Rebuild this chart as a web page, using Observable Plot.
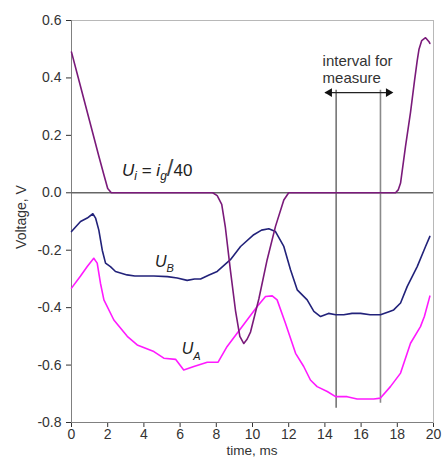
<!DOCTYPE html>
<html><head><meta charset="utf-8">
<script src="https://cdn.jsdelivr.net/npm/d3@7"></script>
<script src="https://cdn.jsdelivr.net/npm/@observablehq/plot@0.6"></script>
<style>body{margin:0;background:#fff}#chart svg{display:block}</style>
</head><body><div id="chart"></div>
<script>
const xTicks = [0, 2, 4, 6, 8, 10, 12, 14, 16, 18, 20];
const yTicks = [-0.8, -0.6, -0.4, -0.2, 0, 0.2, 0.4, 0.6];
const xLabel = "time, ms";
const yLabel = "Voltage, V";

const uiT = [0, 0.5, 1.0, 1.5, 1.8, 2.0, 2.2, 3, 4, 5, 6, 7, 7.8, 8.05, 8.3, 8.5, 8.78, 9.06, 9.3, 9.52, 9.7, 9.89, 10.35, 10.81, 11.27, 11.73, 12.0, 13, 14, 15, 16, 17, 17.9, 18.05, 18.18, 18.45, 18.73, 18.95, 19.1, 19.2, 19.35, 19.56, 19.74, 19.8];
const uiV = [0.49, 0.37, 0.25, 0.13, 0.06, 0.015, 0, 0, 0, 0, 0, 0, 0, -0.01, -0.04, -0.12, -0.27, -0.41, -0.50, -0.525, -0.51, -0.485, -0.37, -0.233, -0.117, -0.025, 0, 0, 0, 0, 0, 0, 0, 0.01, 0.034, 0.16, 0.28, 0.39, 0.46, 0.5, 0.53, 0.54, 0.527, 0.52];

const ubT = [0, 0.5, 0.87, 1.18, 1.33, 1.51, 1.7, 1.88, 2.15, 2.43, 3.07, 3.5, 4.55, 5.3, 5.84, 6.39, 6.8, 7.13, 7.6, 8.05, 8.78, 9.34, 10.07, 10.5, 10.9, 11.27, 11.73, 12.1, 12.47, 13.02, 13.39, 13.76, 14.2, 14.6, 15.04, 15.5, 15.97, 16.5, 17.07, 17.5, 17.8, 18.18, 18.55, 19.1, 19.56, 19.8];
const ubV = [-0.135, -0.10, -0.088, -0.073, -0.088, -0.13, -0.2, -0.245, -0.257, -0.274, -0.286, -0.29, -0.29, -0.292, -0.297, -0.305, -0.3, -0.3, -0.286, -0.274, -0.233, -0.187, -0.146, -0.13, -0.125, -0.135, -0.187, -0.268, -0.338, -0.373, -0.413, -0.431, -0.42, -0.425, -0.425, -0.42, -0.42, -0.425, -0.425, -0.415, -0.408, -0.384, -0.326, -0.257, -0.187, -0.152];

const uaT = [0, 0.5, 0.87, 1.23, 1.42, 1.6, 1.79, 2.34, 3.08, 3.63, 4.55, 5.1, 5.75, 6.2, 6.76, 7.5, 8.1, 8.6, 9.15, 9.71, 10.26, 10.72, 11.09, 11.36, 11.82, 12.38, 12.83, 13.2, 13.57, 14.13, 14.59, 15.23, 15.78, 16.7, 17.07, 17.62, 18.18, 18.73, 19.28, 19.5, 19.8];
const uaV = [-0.332, -0.29, -0.257, -0.228, -0.245, -0.315, -0.373, -0.443, -0.5, -0.53, -0.553, -0.576, -0.58, -0.617, -0.605, -0.59, -0.59, -0.535, -0.489, -0.442, -0.396, -0.361, -0.359, -0.373, -0.454, -0.559, -0.605, -0.652, -0.675, -0.692, -0.71, -0.71, -0.718, -0.718, -0.715, -0.675, -0.628, -0.524, -0.466, -0.43, -0.36];

const measureT = [14.62, 17.07];
const measureTop = [0.357, 0.357];
const measureBottom = [-0.75, -0.733];
const arrowT = [14.03, 17.73];
const arrowV = 0.349;

const toRows = (ts, vs) => ts.map((t, i) => ({t, v: vs[i]}));
const ui = toRows(uiT, uiV), ub = toRows(ubT, ubV), ua = toRows(uaT, uaV);
const measure = measureT.map((t, i) => ({t, top: measureTop[i], bottom: measureBottom[i]}));

const FONT = "'Liberation Sans', Arial, sans-serif";
const plot = Plot.plot({
  width: 443, height: 457,
  marginLeft: 71, marginRight: 10, marginTop: 20, marginBottom: 35,
  style: {fontFamily: FONT, fontSize: "14px", color: "#333", background: "#fff"},
  x: {domain: [0, 20], ticks: xTicks, tickSize: 5, tickPadding: 2, label: null},
  y: {domain: [-0.8, 0.6], ticks: yTicks, tickSize: 5, tickPadding: 5, tickFormat: d => d.toFixed(1), label: null},
  marks: [
    Plot.frame({stroke: "#b8b8b8"}),
    Plot.ruleX([0], {stroke: "#808080"}),
    Plot.ruleY([-0.8], {stroke: "#808080"}),
    Plot.ruleY([0], {stroke: "#666", strokeWidth: 1.5}),
    Plot.ruleX(measure.slice(0, 1), {x: "t", y1: "top", y2: "bottom", stroke: "#555", strokeWidth: 1.3}),
    Plot.ruleX(measure.slice(1), {x: "t", y1: "top", y2: "bottom", stroke: "#8a8a8a", strokeWidth: 1.6}),
    Plot.ruleY([arrowV], {x1: arrowT[0], x2: arrowT[1], stroke: "#222", strokeWidth: 1.3}),
    Plot.dot([{t: arrowT[0], v: arrowV}], {x: "t", y: "v", symbol: "triangle", r: 3.2, fill: "#111", stroke: null, rotate: -90, dx: 4}),
    Plot.dot([{t: arrowT[1], v: arrowV}], {x: "t", y: "v", symbol: "triangle", r: 3.2, fill: "#111", stroke: null, rotate: 90, dx: -4}),
    Plot.line(ub, {x: "t", y: "v", stroke: "#22227a", strokeWidth: 1.6}),
    Plot.line(ua, {x: "t", y: "v", stroke: "#ff1aff", strokeWidth: 1.6}),
    Plot.line(ui, {x: "t", y: "v", stroke: "#7a1a7a", strokeWidth: 1.6}),
    Plot.text(["interval for"], {x: 13.87, y: 0.457, textAnchor: "start", fontSize: 15, fill: "#333"}),
    Plot.text(["measure"], {x: 13.87, y: 0.40, textAnchor: "start", fontSize: 15, fill: "#333"})
  ]
});
document.getElementById("chart").appendChild(plot);

const sx = plot.scale("x"), sy = plot.scale("y");
const svg = d3.select(plot);
const xMid = (sx.apply(0) + sx.apply(20)) / 2;
const yMid = (sy.apply(0.6) + sy.apply(-0.8)) / 2;

// axis titles
svg.append("text").attr("x", xMid).attr("y", 455).attr("text-anchor", "middle")
  .attr("font-size", 13.5).attr("fill", "#333").style("font-family", FONT).text(xLabel);
svg.append("text").attr("transform", `translate(26,${yMid - 4}) rotate(-90)`).attr("text-anchor", "middle")
  .attr("font-size", 14).attr("fill", "#333").style("font-family", FONT).text(yLabel);

function rich(t, v, parts) {
  const tx = svg.append("text")
    .attr("x", sx.apply(t)).attr("y", sy.apply(v))
    .attr("text-anchor", "start")
    .attr("fill", "#222")
    .style("font-family", FONT);
  let shift = 0;
  parts.forEach(p => {
    const span = tx.append("tspan").text(p.s).attr("font-size", p.size);
    if (p.it) span.attr("font-style", "italic");
    if (p.fill) span.attr("fill", p.fill);
    const target = p.sub ? p.sub : 0;
    if (target !== shift) { span.attr("dy", target - shift); shift = target; }
  });
}
rich(2.82, 0.056, [
  {s: "U", it: true, size: 17}, {s: "i", it: true, size: 12, sub: 4},
  {s: " = ", size: 17}, {s: "i", it: true, size: 17}, {s: "g", it: true, size: 12, sub: 4},
  {s: "/", size: 24, fill: "#444"}, {s: "40", size: 17}
]);
rich(4.64, -0.261, [{s: "U", it: true, size: 16}, {s: "B", it: true, size: 11, sub: 5}]);
rich(6.12, -0.564, [{s: "U", it: true, size: 16}, {s: "A", it: true, size: 11, sub: 6}]);
</script></body></html>
